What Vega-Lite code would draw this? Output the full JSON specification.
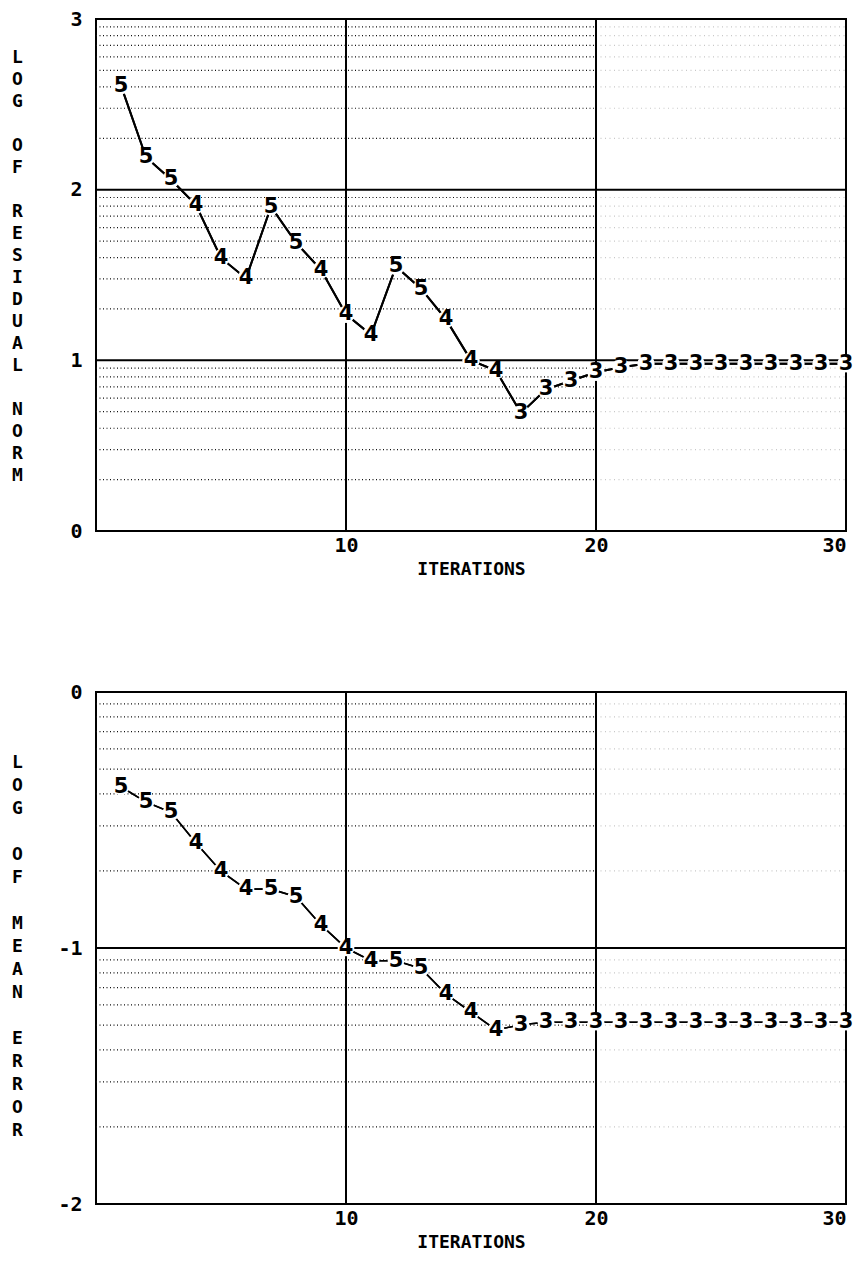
{
  "$schema": "https://vega.github.io/schema/vega-lite/v6.json",
  "background": "white",
  "padding": {"left": 10, "top": 8, "right": 2, "bottom": 2},
  "spacing": 102,
  "config": {
    "view": {"stroke": "black", "strokeWidth": 2},
    "axis": {"domain": false, "ticks": false, "grid": false, "labelOverlap": false, "labelFont": "DejaVu Sans Mono", "labelFontSize": 20, "labelFontWeight": "bold", "labelColor": "black", "titleFont": "DejaVu Sans Mono", "titleFontSize": 18, "titleFontWeight": "bold", "titleColor": "black"}
  },
  "datasets": {
    "residual": [
      {"iter": 1, "value": 2.61, "label": "5"},
      {"iter": 2, "value": 2.19, "label": "5"},
      {"iter": 3, "value": 2.06, "label": "5"},
      {"iter": 4, "value": 1.91, "label": "4"},
      {"iter": 5, "value": 1.60, "label": "4"},
      {"iter": 6, "value": 1.48, "label": "4"},
      {"iter": 7, "value": 1.90, "label": "5"},
      {"iter": 8, "value": 1.69, "label": "5"},
      {"iter": 9, "value": 1.53, "label": "4"},
      {"iter": 10, "value": 1.27, "label": "4"},
      {"iter": 11, "value": 1.15, "label": "4"},
      {"iter": 12, "value": 1.55, "label": "5"},
      {"iter": 13, "value": 1.42, "label": "5"},
      {"iter": 14, "value": 1.24, "label": "4"},
      {"iter": 15, "value": 1.00, "label": "4"},
      {"iter": 16, "value": 0.94, "label": "4"},
      {"iter": 17, "value": 0.69, "label": "3"},
      {"iter": 18, "value": 0.83, "label": "3"},
      {"iter": 19, "value": 0.88, "label": "3"},
      {"iter": 20, "value": 0.93, "label": "3"},
      {"iter": 21, "value": 0.96, "label": "3"},
      {"iter": 22, "value": 0.98, "label": "3"},
      {"iter": 23, "value": 0.98, "label": "3"},
      {"iter": 24, "value": 0.98, "label": "3"},
      {"iter": 25, "value": 0.98, "label": "3"},
      {"iter": 26, "value": 0.98, "label": "3"},
      {"iter": 27, "value": 0.98, "label": "3"},
      {"iter": 28, "value": 0.98, "label": "3"},
      {"iter": 29, "value": 0.98, "label": "3"},
      {"iter": 30, "value": 0.98, "label": "3"}
    ],
    "error": [
      {"iter": 1, "value": -0.37, "label": "5"},
      {"iter": 2, "value": -0.43, "label": "5"},
      {"iter": 3, "value": -0.47, "label": "5"},
      {"iter": 4, "value": -0.59, "label": "4"},
      {"iter": 5, "value": -0.70, "label": "4"},
      {"iter": 6, "value": -0.77, "label": "4"},
      {"iter": 7, "value": -0.77, "label": "5"},
      {"iter": 8, "value": -0.80, "label": "5"},
      {"iter": 9, "value": -0.91, "label": "4"},
      {"iter": 10, "value": -1.00, "label": "4"},
      {"iter": 11, "value": -1.05, "label": "4"},
      {"iter": 12, "value": -1.05, "label": "5"},
      {"iter": 13, "value": -1.08, "label": "5"},
      {"iter": 14, "value": -1.18, "label": "4"},
      {"iter": 15, "value": -1.25, "label": "4"},
      {"iter": 16, "value": -1.32, "label": "4"},
      {"iter": 17, "value": -1.30, "label": "3"},
      {"iter": 18, "value": -1.29, "label": "3"},
      {"iter": 19, "value": -1.29, "label": "3"},
      {"iter": 20, "value": -1.29, "label": "3"},
      {"iter": 21, "value": -1.29, "label": "3"},
      {"iter": 22, "value": -1.29, "label": "3"},
      {"iter": 23, "value": -1.29, "label": "3"},
      {"iter": 24, "value": -1.29, "label": "3"},
      {"iter": 25, "value": -1.29, "label": "3"},
      {"iter": 26, "value": -1.29, "label": "3"},
      {"iter": 27, "value": -1.29, "label": "3"},
      {"iter": 28, "value": -1.29, "label": "3"},
      {"iter": 29, "value": -1.29, "label": "3"},
      {"iter": 30, "value": -1.29, "label": "3"}
    ],
    "minorTop": [
      {"v": 0.301}, {"v": 0.477}, {"v": 0.602}, {"v": 0.699}, {"v": 0.778}, {"v": 0.845}, {"v": 0.903}, {"v": 0.954},
      {"v": 1.301}, {"v": 1.477}, {"v": 1.602}, {"v": 1.699}, {"v": 1.778}, {"v": 1.845}, {"v": 1.903}, {"v": 1.954},
      {"v": 2.301}, {"v": 2.477}, {"v": 2.602}, {"v": 2.699}, {"v": 2.778}, {"v": 2.845}, {"v": 2.903}, {"v": 2.954}
    ],
    "minorBottom": [
      {"v": -1.699}, {"v": -1.523}, {"v": -1.398}, {"v": -1.301}, {"v": -1.222}, {"v": -1.155}, {"v": -1.097}, {"v": -1.046},
      {"v": -0.699}, {"v": -0.523}, {"v": -0.398}, {"v": -0.301}, {"v": -0.222}, {"v": -0.155}, {"v": -0.097}, {"v": -0.046}
    ],
    "majorTop": [{"v": 1}, {"v": 2}],
    "majorBottom": [{"v": -1}],
    "vert": [{"v": 10}, {"v": 20}]
  },
  "vconcat": [
    {
      "width": 750,
      "height": 512,
      "layer": [
        {
          "data": {"name": "residual"},
          "mark": {"type": "line", "color": "black", "strokeWidth": 2},
          "encoding": {
            "x": {"field": "iter", "type": "quantitative", "scale": {"domain": [0, 30], "nice": false, "zero": false},
                  "axis": {"values": [10, 20, 30], "labelExpr": "'' + datum.value", "title": "ITERATIONS", "labelPadding": 4, "titlePadding": 5}},
            "y": {"field": "value", "type": "quantitative", "scale": {"domain": [0, 3], "nice": false, "zero": false},
                  "axis": {"values": [0, 1, 2, 3], "labelExpr": "'' + datum.value", "labelPadding": 14,
                           "title": ["L", "O", "G", "\u200b", "O", "F", "\u200b", "R", "E", "S", "I", "D", "U", "A", "L", "\u200b", "N", "O", "R", "M"],
                           "titleAngle": 0, "titleX": -79, "titleY": 38, "titleAlign": "center", "titleBaseline": "middle", "titleLineHeight": 22}}
          }
        },
        {
          "data": {"name": "minorTop"},
          "mark": {"type": "rule", "color": "#111111", "strokeWidth": 1.2, "strokeDash": [1, 2.5]},
          "encoding": {
            "y": {"field": "v", "type": "quantitative"},
            "x": {"datum": 0, "type": "quantitative"},
            "x2": {"datum": 20}
          }
        },
        {
          "data": {"name": "minorTop"},
          "mark": {"type": "rule", "color": "#c8c8c8", "strokeWidth": 1.2, "strokeDash": [1, 3.5]},
          "encoding": {
            "y": {"field": "v", "type": "quantitative"},
            "x": {"datum": 20, "type": "quantitative"},
            "x2": {"datum": 30}
          }
        },
        {
          "data": {"name": "majorTop"},
          "mark": {"type": "rule", "color": "black", "strokeWidth": 2},
          "encoding": {
            "y": {"field": "v", "type": "quantitative"}
          }
        },
        {
          "data": {"name": "vert"},
          "mark": {"type": "rule", "color": "black", "strokeWidth": 2},
          "encoding": {
            "x": {"field": "v", "type": "quantitative"}
          }
        },
        {
          "data": {"name": "residual"},
          "mark": {"type": "line", "color": "black", "strokeWidth": 2},
          "encoding": {
            "x": {"field": "iter", "type": "quantitative"},
            "y": {"field": "value", "type": "quantitative"}
          }
        },
        {
          "data": {"name": "residual"},
          "mark": {"type": "point", "filled": true, "color": "white", "opacity": 1, "size": 300, "shape": "circle"},
          "encoding": {
            "x": {"field": "iter", "type": "quantitative"},
            "y": {"field": "value", "type": "quantitative"}
          }
        },
        {
          "data": {"name": "residual"},
          "mark": {"type": "text", "font": "DejaVu Sans", "fontSize": 21, "fontWeight": "bold", "color": "black", "baseline": "middle", "align": "center"},
          "encoding": {
            "x": {"field": "iter", "type": "quantitative"},
            "y": {"field": "value", "type": "quantitative"},
            "text": {"field": "label"}
          }
        }
      ]
    },
    {
      "width": 750,
      "height": 512,
      "layer": [
        {
          "data": {"name": "error"},
          "mark": {"type": "line", "color": "black", "strokeWidth": 1.6},
          "encoding": {
            "x": {"field": "iter", "type": "quantitative", "scale": {"domain": [0, 30], "nice": false, "zero": false},
                  "axis": {"values": [10, 20, 30], "labelExpr": "'' + datum.value", "title": "ITERATIONS", "labelPadding": 4, "titlePadding": 5}},
            "y": {"field": "value", "type": "quantitative", "scale": {"domain": [-2, 0], "nice": false, "zero": false},
                  "axis": {"values": [-2, -1, 0], "labelExpr": "'' + datum.value", "labelPadding": 14,
                           "title": ["L", "O", "G", "\u200b", "O", "F", "\u200b", "M", "E", "A", "N", "\u200b", "E", "R", "R", "O", "R"],
                           "titleAngle": 0, "titleX": -79, "titleY": 70, "titleAlign": "center", "titleBaseline": "middle", "titleLineHeight": 23}}
          }
        },
        {
          "data": {"name": "minorBottom"},
          "mark": {"type": "rule", "color": "#111111", "strokeWidth": 1.2, "strokeDash": [1, 2.5]},
          "encoding": {
            "y": {"field": "v", "type": "quantitative"},
            "x": {"datum": 0, "type": "quantitative"},
            "x2": {"datum": 20}
          }
        },
        {
          "data": {"name": "minorBottom"},
          "mark": {"type": "rule", "color": "#c8c8c8", "strokeWidth": 1.2, "strokeDash": [1, 3.5]},
          "encoding": {
            "y": {"field": "v", "type": "quantitative"},
            "x": {"datum": 20, "type": "quantitative"},
            "x2": {"datum": 30}
          }
        },
        {
          "data": {"name": "majorBottom"},
          "mark": {"type": "rule", "color": "black", "strokeWidth": 2},
          "encoding": {
            "y": {"field": "v", "type": "quantitative"}
          }
        },
        {
          "data": {"name": "vert"},
          "mark": {"type": "rule", "color": "black", "strokeWidth": 2},
          "encoding": {
            "x": {"field": "v", "type": "quantitative"}
          }
        },
        {
          "data": {"name": "error"},
          "mark": {"type": "line", "color": "black", "strokeWidth": 1.6},
          "encoding": {
            "x": {"field": "iter", "type": "quantitative"},
            "y": {"field": "value", "type": "quantitative"}
          }
        },
        {
          "data": {"name": "error"},
          "mark": {"type": "point", "filled": true, "color": "white", "opacity": 1, "size": 280, "shape": "circle"},
          "encoding": {
            "x": {"field": "iter", "type": "quantitative"},
            "y": {"field": "value", "type": "quantitative"}
          }
        },
        {
          "data": {"name": "error"},
          "mark": {"type": "text", "font": "DejaVu Sans", "fontSize": 21, "fontWeight": "bold", "color": "black", "baseline": "middle", "align": "center"},
          "encoding": {
            "x": {"field": "iter", "type": "quantitative"},
            "y": {"field": "value", "type": "quantitative"},
            "text": {"field": "label"}
          }
        }
      ]
    }
  ]
}
